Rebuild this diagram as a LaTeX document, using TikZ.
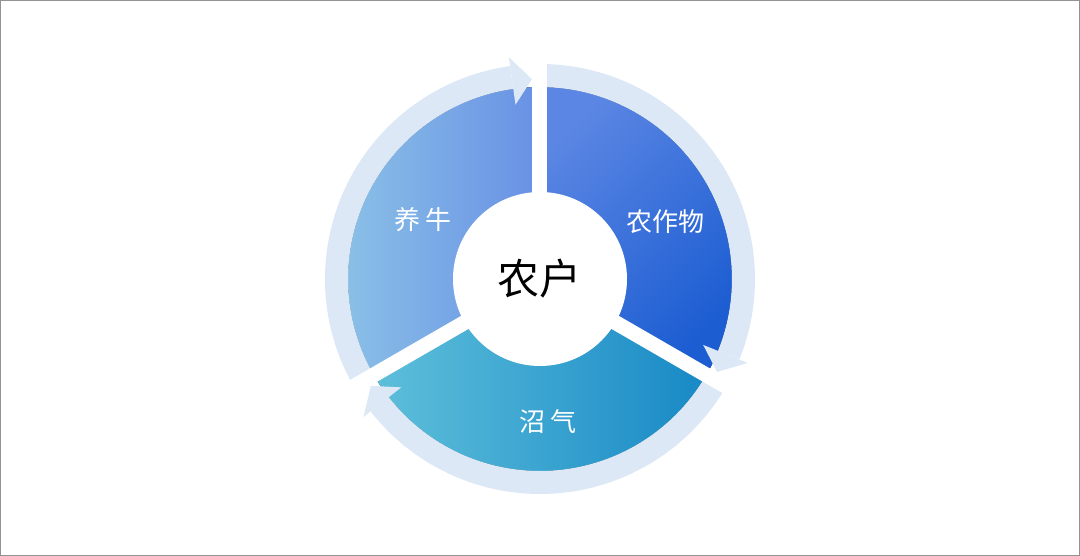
\documentclass[tikz,border=0pt]{standalone}
\usepackage{fontspec}
\newfontfamily\cjk{Noto Sans CJK SC}
\usetikzlibrary{positioning}
\definecolor{ringblue}{HTML}{DDE8F6}
\definecolor{cropA}{HTML}{5B86E3}
\definecolor{cropB}{HTML}{1C5DD2}
\definecolor{cowA}{HTML}{8EC6E7}
\definecolor{cowB}{HTML}{6890E5}
\definecolor{gasA}{HTML}{5EBFDA}
\definecolor{gasB}{HTML}{1889C6}
\tikzset{
	ring/.style={draw=ringblue, line width=23pt},
	tiphead/.style={fill=ringblue},
	gap/.style={draw=white, line width=15pt},
	part/.style={text=white, font=\cjk\fontsize{26}{30}\selectfont},
}

\begin{document}
\begin{tikzpicture}[x=1pt, y=1pt]
	\useasboundingbox (-540,-277) rectangle (540,279);
	\draw[gray!85, line width=1.2pt] (-539.4,-276.4) rectangle (539.4,278.4);
	
	% sectors
	\fill[left color=cropA, right color=cropB, shading angle=45] (0,0) -- (90:192) arc[start angle=90, end angle=-30, radius=192] -- cycle;
	\fill[left color=gasA, right color=gasB] (0,0) -- (-30:192) arc[start angle=-30, end angle=-150, radius=192] -- cycle;
	\fill[left color=cowA, right color=cowB] (0,0) -- (210:192) arc[start angle=210, end angle=90, radius=192] -- cycle;
	
	% outer ring with arrow heads
	\foreach \s in {90,-30,-150}{
		\pgfmathsetmacro\e{\s-112}
		\pgfmathsetmacro\t{\s-117.7}
		\draw[ring] (\s:203.5) arc[start angle=\s, end angle=\e, radius=203.5];
		\fill[tiphead] (\e:176) -- (\e:224) -- (\t:200) -- cycle;
	}
	
	% gaps
	\foreach \a in {90,-30,210}
		\draw[gap] (0,0) -- (\a:240);
	
	\node[circle, fill=white, minimum size=174pt, inner sep=0pt, font=\cjk\fontsize{42}{48}\selectfont] (hub) at (0,0) {农户};
	\node[part] (crop) at (126,57) {农作物};
	\node[part] (cow) at (-117,59) {养 牛};
	\node[part] (gas) at (8,-143) {沼 气};
\end{tikzpicture}
\end{document}
